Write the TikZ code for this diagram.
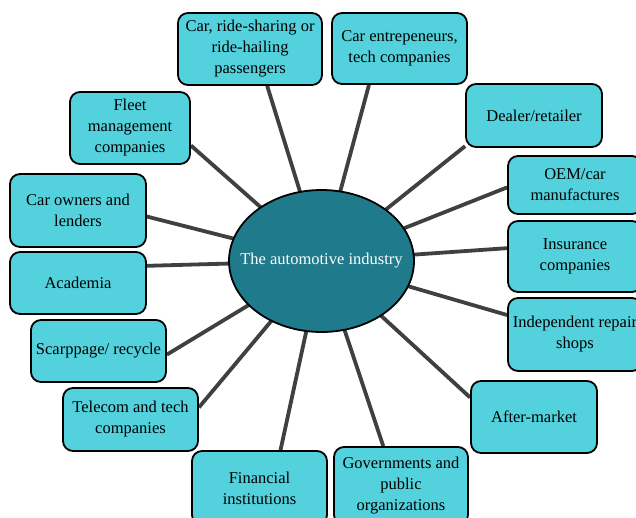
\documentclass[tikz,border=0pt]{standalone}
\usepackage{fontspec}
\setmainfont{Liberation Serif}
\usepackage{xcolor}
\usepackage{tikz}
\usetikzlibrary{backgrounds,shapes.geometric}
\definecolor{boxcyan}{RGB}{83,209,220}
\definecolor{hubteal}{RGB}{31,123,139}
\definecolor{spokegrey}{RGB}{64,64,64}
\tikzset{
  actor/.style={draw=black,line width=1.8pt,rounded corners=10pt,fill=boxcyan,
    align=center,inner sep=3pt,font=\fontsize{16.5}{21}\selectfont},
  boxsize/.style 2 args={minimum width=#1,minimum height=#2},
  hub/.style={ellipse,draw=black,line width=1.8pt,fill=hubteal,text=white,
    inner sep=0pt,minimum width=185pt,minimum height=142pt,
    font=\fontsize{16.5}{21}\selectfont},
  spoke/.style={line width=3.8pt,draw=spokegrey}
}

\begin{document}
\begin{tikzpicture}[x=1pt,y=-1pt]
  \useasboundingbox (0,0) rectangle (636,517);
  \clip (0,0) rectangle (636,517);
  % centre
  \node[hub] (hub) at (321.5,261) {\makebox[0pt]{The automotive industry}};
  % stakeholders, clockwise from the top
  \node[actor,boxsize={144pt}{72pt}] (pass) at (250,49) {Car, ride-sharing or\\ride-hailing\\passengers};
  \node[actor,boxsize={135pt}{71pt}] (entre) at (399.5,48.5) {Car entrepeneurs,\\tech companies};
  \node[actor,boxsize={136pt}{63pt}] (dealer) at (534,115.5) {Dealer/retailer};
  \node[actor,boxsize={134pt}{58pt}] (oem) at (575,185) {OEM/car\\manufactures};
  \node[actor,boxsize={134pt}{71pt}] (ins) at (575,256.5) {Insurance\\companies};
  \node[actor,boxsize={134pt}{73pt}] (repair) at (575,334.5) {Independent repair\\shops};
  \node[actor,boxsize={126pt}{72pt}] (after) at (534,417) {After-market};
  \node[actor,boxsize={134pt}{78pt}] (gov) at (401,486) {Governments and\\public\\organizations};
  \node[actor,boxsize={135pt}{74pt}] (fin) at (259.5,488) {Financial\\institutions};
  \node[actor,boxsize={135pt}{63pt}] (tele) at (130.5,419.5) {Telecom and tech\\companies};
  \node[actor,boxsize={135pt}{62pt}] (scrap) at (98.5,351) {Scarppage/ recycle};
  \node[actor,boxsize={136pt}{62pt}] (acad) at (78,283) {Academia};
  \node[actor,boxsize={136pt}{73pt}] (owners) at (78,210.5) {Car owners and\\lenders};
  \node[actor,boxsize={120pt}{72pt}] (fleet) at (130,128) {Fleet\\management\\companies};
  % spokes run under the boxes and the ellipse
  \begin{pgfonlayer}{background}
    \draw[spoke] (pass.-65) -- (hub.center);
    \draw[spoke] (entre.-130) -- (hub.center);
    \draw[spoke] (dealer.-156) -- (hub.center);
    \draw[spoke] (oem.182) -- (hub.center);
    \draw[spoke] (ins.173) -- (hub.center);
    \draw[spoke] (repair.164) -- (hub.center);
    \draw[spoke] (after.163) -- (hub.center);
    \draw[spoke] (gov.114) -- (hub.center);
    \draw[spoke] (fin.61) -- (hub.center);
    \draw[spoke] (tele.10) -- (hub.center);
    \draw[spoke] (scrap.-3) -- (hub.center);
    \draw[spoke] (acad.14) -- (hub.center);
    \draw[spoke] (owners.-5) -- (hub.center);
    \draw[spoke] (fleet.-16) -- (hub.center);
  \end{pgfonlayer}
\end{tikzpicture}
\end{document}
